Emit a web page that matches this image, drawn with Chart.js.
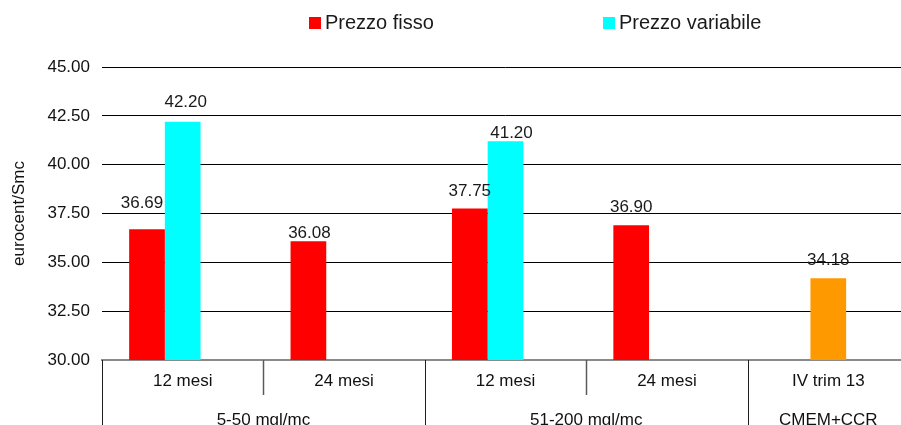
<!DOCTYPE html>
<html lang="it">
<head>
<meta charset="utf-8">
<title>Prezzi gas</title>
<script src="https://cdn.jsdelivr.net/npm/chart.js@4/dist/chart.umd.min.js"></script>
<style>
  html, body { margin: 0; padding: 0; background: #fff; overflow: hidden; }
  #wrap { width: 912px; height: 425px; }
</style>
</head>
<body>
<div id="wrap"><canvas id="c" width="912" height="425"></canvas></div>
<script>
// ---- data ----
const categories = ['12 mesi', '24 mesi', '12 mesi', '24 mesi', 'IV trim 13'];
const groupLabels = ['5-50 mgl/mc', '51-200 mgl/mc', 'CMEM+CCR'];
const groupSizes = [2, 2, 1];              // categories covered by each group
const prezzoFisso = [36.69, 36.08, 37.75, 36.90, null];
const prezzoVariabile = [42.20, null, 41.20, null, null];
const cmemCcr = [null, null, null, null, 34.18];
const yTicks = [30, 32.5, 35, 37.5, 40, 42.5, 45];

// ---- styling ----
const FONT = "'Liberation Sans', Arial, Helvetica, sans-serif";
Chart.defaults.font.family = FONT;
Chart.defaults.color = '#111';

// vertical gap (px) between each value label and the top of its bar, plus small sideways nudges
const labelLift = {
  fisso: [21, 3, 13, 13, 0],
  variabile: [15, 0, 3, 0, 0],
  cmem: [0, 0, 0, 0, 13]
};
const labelShift = {
  fisso: [-5, 1, 0, 0, 0],
  variabile: [3, 0, 6, 0, 0],
  cmem: [0, 0, 0, 0, 0]
};

const valueLabels = {
  id: 'valueLabels',
  afterDatasetsDraw(chart) {
    const ctx = chart.ctx;
    ctx.save();
    ctx.font = '17px ' + FONT;
    ctx.fillStyle = '#1a1a1a';
    ctx.textAlign = 'center';
    ctx.textBaseline = 'alphabetic';
    chart.data.datasets.forEach((ds, di) => {
      if (!ds.key) return;
      const meta = chart.getDatasetMeta(di);
      meta.data.forEach((bar, i) => {
        const v = ds.data[i];
        if (v === null || v === undefined) return;
        const lift = labelLift[ds.key][i];
        const dx = labelShift[ds.key][i];
        ctx.fillText(v.toFixed(2), bar.x + dx, bar.y - lift);
      });
    });
    ctx.restore();
  }
};

// two-level category axis: separators and group names under the tick labels
const groupAxis = {
  id: 'groupAxis',
  afterDraw(chart) {
    const x = chart.scales.x;
    const ctx = chart.ctx;
    const n = categories.length;
    const step = (x.getPixelForValue(1) - x.getPixelForValue(0));
    const edge = (k) => x.getPixelForValue(0) - step / 2 + k * step;
    const bottom = chart.chartArea.bottom;
    const groupEdges = [0];
    groupSizes.forEach(s => groupEdges.push(groupEdges[groupEdges.length - 1] + s));

    ctx.save();
    for (let k = 0; k <= n; k++) {
      const isGroup = groupEdges.includes(k);
      const px = Math.round(edge(k)) + 0.5;
      ctx.beginPath();
      ctx.strokeStyle = isGroup ? '#1e1e1e' : '#5a5a5a';
      ctx.lineWidth = isGroup ? 1 : 1.5;
      ctx.moveTo(px, bottom);
      ctx.lineTo(px, isGroup ? chart.height : bottom + 35);
      ctx.stroke();
    }
    ctx.font = '17px ' + FONT;
    ctx.fillStyle = '#111';
    ctx.textAlign = 'center';
    ctx.textBaseline = 'alphabetic';
    groupLabels.forEach((g, gi) => {
      const cx = (edge(groupEdges[gi]) + edge(groupEdges[gi + 1])) / 2;
      ctx.fillText(g, cx, bottom + 65);
    });
    ctx.restore();
  }
};

// legend row across the top
const topLegend = {
  id: 'topLegend',
  afterDraw(chart, args, opts) {
    const ctx = chart.ctx;
    ctx.save();
    ctx.font = '20px ' + FONT;
    ctx.textAlign = 'left';
    ctx.textBaseline = 'alphabetic';
    let slot = 0;
    chart.data.datasets.forEach((ds) => {
      if (!ds.inLegend) return;
      const lx = opts.positions[slot++];
      ctx.fillStyle = ds.backgroundColor;
      ctx.fillRect(lx, 17, 12, 12);
      ctx.fillStyle = '#1a1a1a';
      ctx.fillText(ds.label, lx + 16, 28.5);
    });
    ctx.restore();
  }
};

new Chart(document.getElementById('c'), {
  type: 'bar',
  data: {
    labels: categories,
    datasets: [
      { key: 'fisso', label: 'Prezzo fisso', data: prezzoFisso, backgroundColor: '#ff0000', stack: 'a', inLegend: true },
      { key: 'variabile', label: 'Prezzo variabile', data: prezzoVariabile, backgroundColor: '#00ffff', stack: 'b', inLegend: true },
      { key: 'cmem', label: 'CMEM+CCR', data: cmemCcr, backgroundColor: '#ff9900', stack: 'b' },
      { label: '', data: categories.map(() => null), backgroundColor: 'rgba(0,0,0,0)', stack: 'c' }
    ]
  },
  options: {
    responsive: false,
    animation: false,
    devicePixelRatio: 1,
    categoryPercentage: 0.6636,
    barPercentage: 1,
    layout: { padding: { left: 0, right: 3, top: 67, bottom: 0 } },
    plugins: {
      legend: { display: false },
      tooltip: { enabled: false },
      topLegend: { positions: [309, 603] }
    },
    scales: {
      x: {
        offset: true,
        grid: { display: false },
        border: { display: true, color: '#8a8a8a', width: 2 },
        ticks: { font: { size: 17 }, color: '#111', padding: 3, maxRotation: 0, autoSkip: false },
        afterFit(scale) { scale.height = 65; }
      },
      y: {
        min: 30,
        max: 45,
        stacked: false,
        afterBuildTicks(scale) { scale.ticks = yTicks.map(v => ({ value: v })); },
        grid: {
          drawTicks: false,
          color: (c) => (c.tick && c.tick.value === 30 ? '#8a8a8a' : '#000000'),
          lineWidth: 1
        },
        border: { display: false },
        ticks: {
          font: { size: 17 },
          color: '#111',
          padding: 12,
          callback: (v) => Number(v).toFixed(2)
        },
        title: {
          display: true,
          text: 'eurocent/Smc',
          font: { size: 17 },
          color: '#111',
          padding: { top: 9, bottom: 0 }
        },
        afterFit(scale) { scale.width = 102; }
      }
    }
  },
  plugins: [valueLabels, groupAxis, topLegend]
});
</script>
</body>
</html>
